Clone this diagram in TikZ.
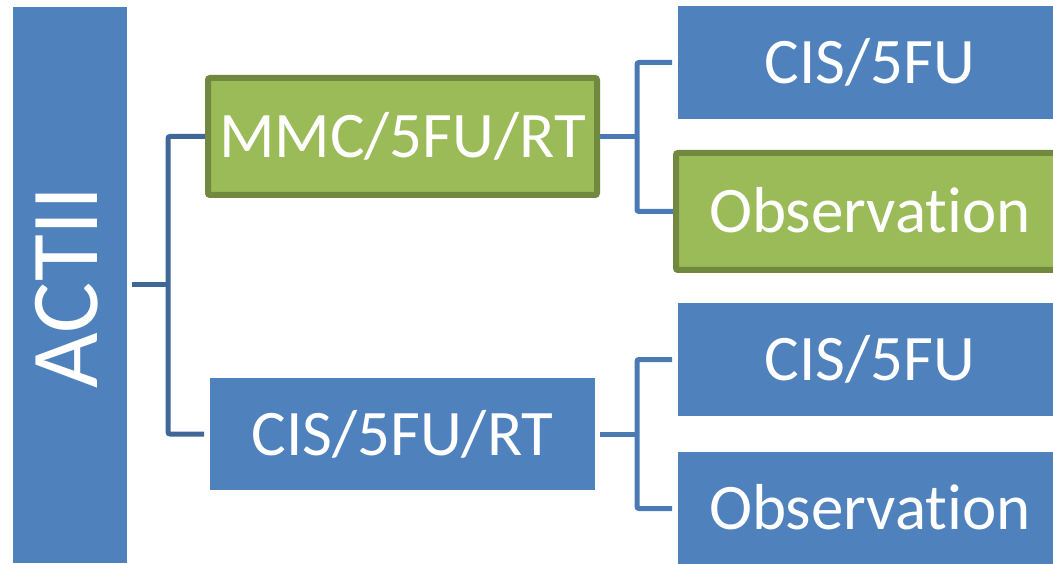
\documentclass[tikz,border=0pt]{standalone}
\usepackage{fontspec}
\setmainfont{Carlito}[Ligatures=NoCommon]
\definecolor{boxblue}{HTML}{4F81BD}
\definecolor{boxgreen}{HTML}{9BBB59}
\definecolor{greenedge}{HTML}{71893F}
\definecolor{linkdark}{HTML}{3F6797}
\definecolor{linkblue}{HTML}{4A79B3}
\tikzset{
  boxtext/.style={text=white, font=\fontsize{65}{70}\selectfont, text height=42pt, text depth=0pt, align=center},
  bluebox/.style={boxtext, fill=boxblue, draw=none, inner sep=0pt, outer sep=0pt},
  greenbox/.style={boxtext, fill=boxgreen, draw=greenedge, line width=6pt, rounded corners=2pt, inner sep=0pt},
  linkA/.style={draw=linkdark, line width=5pt, rounded corners=2pt},
  linkB/.style={draw=linkblue, line width=5pt, rounded corners=2pt},
}
\begin{document}
\begin{tikzpicture}[x=1pt, y=-1pt]
\useasboundingbox (0,0) rectangle (1053,564);

% trial label column
\node[bluebox, minimum width=114pt, minimum height=556pt] (actii) at (70,285) {};
\node[text=white, font=\fontsize{96}{100}\selectfont, text height=62pt, text depth=0pt, inner sep=0pt, rotate=90] (actiilabel) at (66.5,287.5) {ACTII};

% first randomisation
\node[greenbox, minimum width=389pt, minimum height=117pt] (mmc) at (402.5,136.5) {MMC/5FU/RT};
\node[bluebox, minimum width=385pt, minimum height=112pt] (cisrt) at (402.5,434) {CIS/5FU/RT};

% maintenance randomisation
\node[bluebox, minimum width=384pt, minimum height=113pt] (cisa) at (870,62.5) {CIS/5FU};
\node[greenbox, minimum width=388pt, minimum height=117pt] (obsa) at (870,211.5) {Observation};
\node[bluebox, minimum width=384pt, minimum height=113pt] (cisb) at (870,359.5) {CIS/5FU};
\node[bluebox, minimum width=384pt, minimum height=113pt] (obsb) at (870,508.5) {Observation};

% connectors
\coordinate (ja) at (168,285);
\coordinate (jb) at (637,136.5);
\coordinate (jc) at (637,434);

\draw[linkA] ([xshift=5pt]actii.east |- ja) -- (ja);
\draw[linkA] (mmc.west) -| (ja) |- ([xshift=-6pt]cisrt.west);

\draw[linkB] (mmc.east) -- (jb);
\draw[linkB] ([xshift=-6pt]cisa.west) -| (jb) |- (obsa.west);

\draw[linkB] ([xshift=5pt]cisrt.east) -- (jc);
\draw[linkB] ([xshift=-6pt]cisb.west) -| (jc) |- ([xshift=-6pt]obsb.west);
\end{tikzpicture}
\end{document}
